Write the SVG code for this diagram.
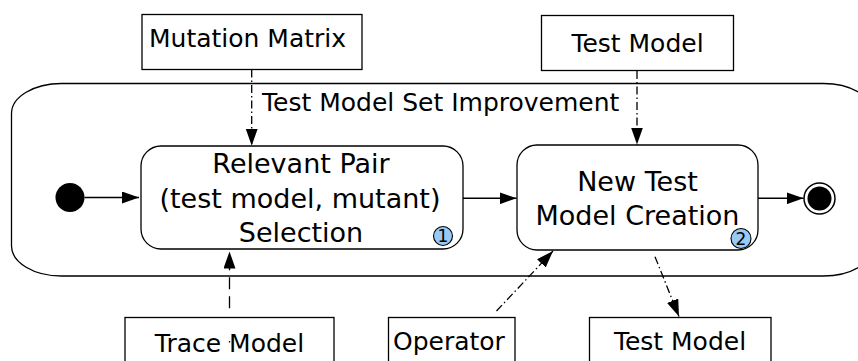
<svg xmlns="http://www.w3.org/2000/svg" width="858" height="361" viewBox="0 0 858 361">
<style>
text{font-family:"DejaVu Sans",Verdana,sans-serif;fill:#000}
.box{fill:#fff;stroke:#000;stroke-width:1.3}
.state{fill:#fff;stroke:#000;stroke-width:1.3}
.lbl{font-size:25px}
.st{font-size:27px;text-anchor:middle}
.badge{fill:#99c9f5;stroke:#000;stroke-width:1.1}
.bn{font-size:17px;text-anchor:middle}
.flow{fill:none;stroke:#000;stroke-width:1.4}
.dd{fill:none;stroke:#000;stroke-width:1.3;stroke-dasharray:8 3 1.5 3}
.dash{fill:none;stroke:#000;stroke-width:1.3;stroke-dasharray:12 7}
</style>
<defs>
<marker id="ah" viewBox="0 0 17 12" refX="17" refY="6" markerWidth="17" markerHeight="12" markerUnits="userSpaceOnUse" orient="auto">
<path d="M0,0 L17,6 L0,12 z" fill="#000"/>
</marker>
</defs>

<g id="container">
<rect x="11.5" y="83.5" width="862" height="192.5" rx="50" ry="30" fill="#fff" stroke="#000" stroke-width="1.3"/>
<text class="lbl" x="262" y="111">Test Model Set Improvement</text>
</g>

<g id="mutation-matrix">
<rect class="box" x="142" y="14.5" width="220" height="55"/>
<text class="lbl" x="149" y="47">Mutation Matrix</text>
</g>

<g id="test-model-in">
<rect class="box" x="541.5" y="15.5" width="192" height="55"/>
<text class="lbl" x="637.5" y="52" text-anchor="middle">Test Model</text>
</g>

<g id="initial">
<circle cx="70" cy="197.5" r="14.5" fill="#000"/>
</g>

<g id="relevant-pair">
<rect class="state" x="141" y="146" width="322" height="103" rx="20" ry="20"/>
<text class="st" x="301" y="173">Relevant Pair</text>
<text class="st" x="300" y="207.5">(test model, mutant)</text>
<text class="st" x="301" y="242">Selection</text>
<circle class="badge" cx="443" cy="236" r="9.5"/>
<text class="bn" x="443" y="242">1</text>
</g>

<g id="new-test-model">
<rect class="state" x="517" y="145" width="241" height="105" rx="20" ry="20"/>
<text class="st" x="637.5" y="191">New Test</text>
<text class="st" x="637.5" y="225">Model Creation</text>
<circle class="badge" cx="741" cy="238.5" r="10"/>
<text class="bn" x="741" y="244.5">2</text>
</g>

<g id="final">
<circle cx="819.5" cy="198.5" r="15.5" fill="#fff" stroke="#000" stroke-width="1.5"/>
<circle cx="819.5" cy="198.5" r="12" fill="#000"/>
</g>

<g id="trace-model">
<rect class="box" x="125" y="317.5" width="209" height="60"/>
<text class="lbl" x="229.5" y="352" text-anchor="middle">Trace Model</text>
</g>

<g id="operator">
<rect class="box" x="388.5" y="317.5" width="126.5" height="60"/>
<text class="lbl" x="393" y="349.5">Operator</text>
</g>

<g id="test-model-out">
<rect class="box" x="589.5" y="317.5" width="181.5" height="60"/>
<text class="lbl" x="680" y="350" text-anchor="middle">Test Model</text>
</g>

<g id="connectors">
<path class="flow" d="M84.5,197.5 H139" marker-end="url(#ah)"/>
<path class="flow" d="M463,198.3 H516.5" stroke-width="2" marker-end="url(#ah)"/>
<path class="flow" d="M758,198.3 H803.5" marker-end="url(#ah)"/>
<path class="dd" d="M251.7,69.5 V145.7" marker-end="url(#ah)"/>
<path class="dd" d="M637,71 V144.5" marker-end="url(#ah)"/>
<path class="dash" d="M229.5,308.3 V251.5" marker-end="url(#ah)"/>
<path d="M229.5,341 v1.5" stroke="#000" stroke-width="1.3"/>
<path class="dd" d="M496.5,311 L553,251" marker-end="url(#ah)"/>
<path class="dd" d="M655,256.7 L679,316.5" marker-end="url(#ah)"/>
</g>
</svg>
